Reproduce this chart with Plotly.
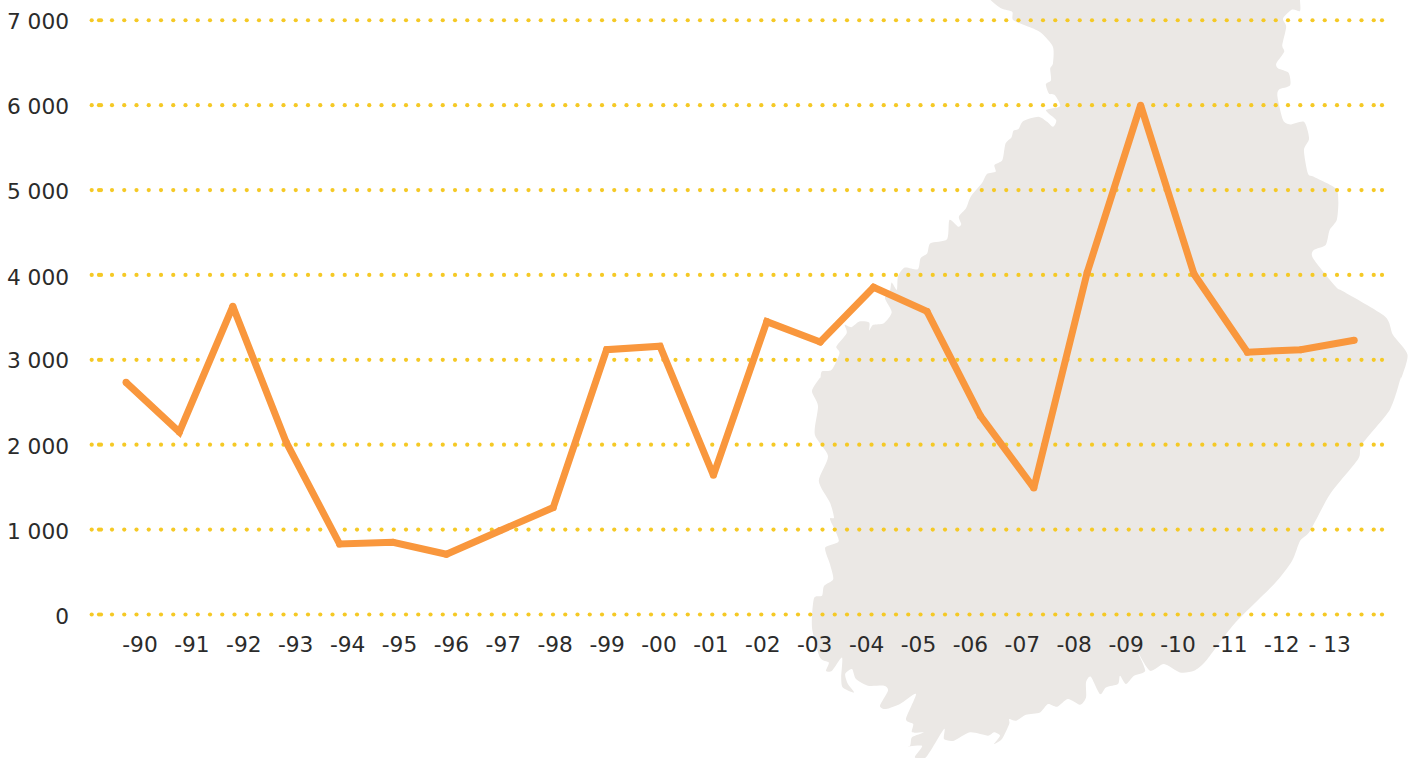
import numpy as np
import plotly.graph_objects as go

# ---- data ----
YEAR_LABELS = ["-90","-91","-92","-93","-94","-95","-96","-97","-98","-99","-00","-01",
               "-02","-03","-04","-05","-06","-07","-08","-09","-10","-11","-12","- 13"]
VALUES = [2735,2150,3630,2030,830,850,710,990,1260,3120,3160,1640,
          3450,3210,3855,3570,2340,1490,4030,6000,4010,3090,3120,3230]
Y_TICKS = [0,1000,2000,3000,4000,5000,6000,7000]
Y_TICK_POS = [-24,976,1976,2988,3976,4988,5988,6988]   # labels sit slightly below the dotted lines
Y_LABELS = ["0","1 000","2 000","3 000","4 000","5 000","6 000","7 000"]

# ---- layout constants (pixels in the 1418x758 page) ----
W, H = 1418, 758
PX_PER_UNIT = 0.085
Y_MIN, Y_MAX = -100, 7050
L, R = 89, 1382
T = 615 - 7000 * PX_PER_UNIT - (Y_MAX - 7000) * PX_PER_UNIT
B = 615 - Y_MIN * PX_PER_UNIT
PT0, PT_STEP = 126.0, 53.4      # first point, spacing of points
LB0, LB_STEP = 140.0, 51.9      # first label, spacing of labels
px2x = lambda p: (np.asarray(p, float) - PT0) / PT_STEP
x_range = [float(px2x(L)), float(px2x(R))]

point_x = list(range(len(VALUES)))
label_px = [LB0 + LB_STEP * k for k in range(len(YEAR_LABELS))]
label_px[-1] += -4
tick_x = [float(px2x(p)) for p in label_px]

# decorative map silhouette: outline, in page pixels
WEST_A = [(470,-30),(483,0),(510,25),(537,35),(540,60),(590,85),(612,100),(640,140),(640,190),(633,205),
          (635,240),(622,252),(630,280),(645,285),(658,318),(622,330),(648,360),(640,380),(625,365),
          (603,350),(565,363),(553,387),(540,392),(535,412),(520,430),(512,480),(492,495),(495,515),
          (473,522),(460,550),(432,590),(420,625),(402,650),(408,672),(400,680),(378,660),(372,718),
          (330,730),(322,760),(305,775),(298,808),(265,803),(248,830),(245,870),(232,848),(228,870),
          (215,895),(232,937),(212,970),(185,975),(175,992),(175,968),(150,965),(130,982),(113,975),
          (118,1000),(92,1040),(100,1060),(80,1110),(55,1115),(52,1140)]
SOUTH_B = [(75,0),(55,40),(70,85),(62,170),(95,235),(72,310),(100,375),(110,420),(100,425),(122,490),
           (88,510),(100,560),(108,605),(85,625),(80,655),(60,662),(55,750),(75,840),(97,855),(90,880),
           (105,880),(130,840),(128,900),(132,930),(160,945),(145,920),(138,890),(155,875),(165,905),
           (195,925),(235,925),(245,940),(225,985),(240,995),(275,980),(315,950),(290,1025),(308,1040),
           (305,1065),(335,1065),(305,1080),(300,1105),(278,1110),(330,1105),(312,1140),(340,1140),
           (385,1055),(385,1085),(410,1090),(450,1065),(495,1075),(510,1065),(525,1075),(510,1100),
           (530,1085),(548,1040),(548,1025),(565,1030),(590,1012),(625,1005),(645,980),(668,988),
           (695,965),(725,982),(740,960),(740,915),(752,898),(775,950),(790,930),(820,920),(825,895),
           (840,920),(860,895),(888,880),(870,825),(900,880),(935,860),(975,885),(1010,880),(1040,850),
           (1110,740),(1210,620),(1255,550),(1275,490),(1300,460),(1350,350),(1420,245),(1430,200),
           (1500,95),(1527,0)]
EAST_C = [(1520,1140),(1537,1065),(1500,1005),(1480,950),(1375,875),(1355,860),(1298,775),(1300,750),
          (1330,735),(1340,690),(1358,660),(1362,605),(1355,565),(1300,530),(1285,520),(1275,450),
          (1288,415),(1275,365),(1240,373),(1222,360),(1208,290),(1212,268),(1240,255),(1236,218),
          (1210,205),(1205,190),(1225,155),(1220,135),(1230,80),(1222,55),(1245,28),(1265,32),(1265,0),(1265,-30)]
outline = ([(800 + u / 2.53, v / 3) for u, v in WEST_A]
           + [(790 + u / 2.5, 378 + v / 3) for u, v in SOUTH_B]
           + [(800 + u / 2.53, v / 3) for u, v in EAST_C])
to_paper = lambda p: ((p[0] - L) / (R - L), (B - p[1]) / (B - T))

def smooth_path(pts, k=0.12):
    """Closed Catmull-Rom style outline written as SVG cubic segments, in paper coordinates."""
    a = np.array(pts, float)
    n = len(a)
    s = "M %.5f,%.5f" % to_paper(a[0])
    for i in range(n):
        p0, p1, p2, p3 = a[(i - 1) % n], a[i], a[(i + 1) % n], a[(i + 2) % n]
        c1, c2 = p1 + (p2 - p0) * k, p2 - (p3 - p1) * k
        s += " C %.5f,%.5f %.5f,%.5f %.5f,%.5f" % (*to_paper(c1), *to_paper(c2), *to_paper(p2))
    return s + " Z"

path = smooth_path(outline)

# dotted grid: round dots along every y tick
dots_px = np.concatenate([[91.7, 99.0, 101.0], np.arange(112.0, 1375.0, 12.25), [1382.0]])
gx, gy = [], []
for t in Y_TICKS:
    gx += [float(v) for v in px2x(dots_px)] + [None]
    gy += [t] * len(dots_px) + [None]

fig = go.Figure()
fig.add_trace(go.Scatter(x=gx, y=gy, mode="markers", cliponaxis=False, hoverinfo="skip",
                         marker=dict(size=4.2, color="#f5c925", line=dict(width=0)),
                         showlegend=False))
fig.add_trace(go.Scatter(x=point_x, y=VALUES, mode="lines+markers", cliponaxis=False,
                         line=dict(color="#f9973d", width=7),
                         marker=dict(size=7, color="#f9973d", line=dict(width=0)),
                         showlegend=False))
fig.update_layout(
    width=W, height=H, autosize=False,
    margin=dict(l=L, r=W - R, t=T, b=H - B, pad=0),
    paper_bgcolor="white", plot_bgcolor="rgba(0,0,0,0)",
    font=dict(family="DejaVu Sans", size=21.7, color="#2b2b2b"),
    shapes=[dict(type="path", path=path, xref="paper", yref="paper", layer="below",
                 fillcolor="#ebe8e5", line=dict(width=0))],
    xaxis=dict(range=x_range, tickmode="array", tickvals=tick_x, ticktext=YEAR_LABELS,
               showgrid=False, zeroline=False, showline=False, ticks="", tickangle=0,
               ticklabelstandoff=6, automargin=False),
    yaxis=dict(range=[Y_MIN, Y_MAX], tickmode="array", tickvals=Y_TICK_POS, ticktext=Y_LABELS,
               showgrid=False, zeroline=False, showline=False, ticks="",
               ticklabelstandoff=19, automargin=False),
)
fig.write_html("out.html", config={"displayModeBar": False},
               post_script="document.body.style.margin='0';document.body.style.overflow='hidden';")
